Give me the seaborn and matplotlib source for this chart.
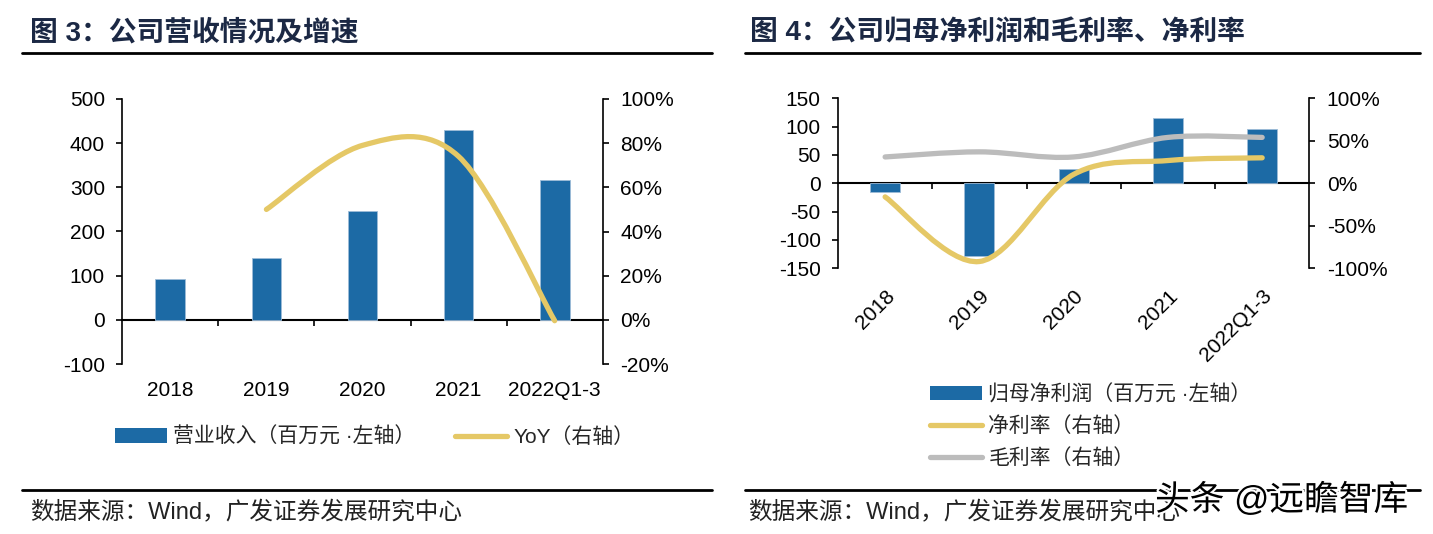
import numpy as np
import pandas as pd
import matplotlib
matplotlib.use("Agg")
import matplotlib.pyplot as plt
import seaborn as sns
import matplotlib.ticker as mticker
import matplotlib.patheffects as pe
from matplotlib.path import Path
from matplotlib.patches import PathPatch, Patch
from matplotlib.lines import Line2D

# ---------------- data ----------------
categories = ["2018", "2019", "2020", "2021", "2022Q1-3"]
revenue = [92, 139, 247, 429, 317]                 # 营业收入（百万元）
revenue_yoy = [np.nan, 50, 79, 74, -0.4]           # YoY (%)
net_profit = [-15, -128, 26, 115, 95]              # 归母净利润（百万元）
net_margin = [-16, -92, 10.5, 26.8, 30]            # 净利率 (%)
gross_margin = [31, 37, 31, 54, 54]                # 毛利率 (%)

left1_ticks = [-100, 0, 100, 200, 300, 400, 500]
right1_ticks = [-20, 0, 20, 40, 60, 80, 100]
left2_ticks = [-150, -100, -50, 0, 50, 100, 150]
right2_ticks = [-100, -50, 0, 50, 100]

title1 = "图 3：公司营收情况及增速"
title2 = "图 4：公司归母净利润和毛利率、净利率"
source = "数据来源：Wind，广发证券发展研究中心"
leg_rev = "营业收入（百万元 ·左轴）"
leg_yoy = "YoY（右轴）"
leg_np = "归母净利润（百万元 ·左轴）"
leg_nm = "净利率（右轴）"
leg_gm = "毛利率（右轴）"
watermark = "头条 @远瞻智库"

# ---------------- style ----------------
BLUE = "#1c6aa5"
YELLOW = "#e5c866"
GREY = "#bcbcbc"
NAVY = "#1b2844"
TICK_FS = 15
LEG_FS = 15

sns.set_theme(style="white")
plt.rcParams["font.family"] = ["Liberation Sans", "Noto Sans CJK SC"]
plt.rcParams["axes.unicode_minus"] = False

W, H = 1433, 534
fig = plt.figure(figsize=(W / 100, H / 100), dpi=100)


def px_rect(x0, y0, x1, y1):
    return [x0 / W, 1 - y1 / H, (x1 - x0) / W, (y1 - y0) / H]


def smooth_path(xs, ys):
    pts = np.array([(x, y) for x, y in zip(xs, ys) if not np.isnan(y)], float)
    n = len(pts)
    verts = [pts[0]]
    codes = [Path.MOVETO]
    for i in range(n - 1):
        p0 = pts[i - 1] if i > 0 else pts[i]
        p1, p2 = pts[i], pts[i + 1]
        p3 = pts[i + 2] if i + 2 < n else pts[i + 1]
        c1 = p1 + (p2 - p0) / 6.0
        c2 = p2 - (p3 - p1) / 6.0
        verts += [c1, c2, p2]
        codes += [Path.CURVE4] * 3
    return Path(verts, codes)


def style_panel(ax, ax2, lticks, rticks):
    n = len(categories)
    ax.set_xlim(-0.5, n - 0.5)
    ax.set_ylim(lticks[0], lticks[-1])
    ax.set_yticks(lticks)
    ax.yaxis.set_major_formatter(mticker.FuncFormatter(lambda v, p: f"{v:.0f}"))
    ax2.set_ylim(rticks[0], rticks[-1])
    ax2.set_yticks(rticks)
    ax2.yaxis.set_major_formatter(mticker.FuncFormatter(lambda v, p: f"{v:.0f}%"))
    for a in (ax, ax2):
        for s in a.spines.values():
            s.set_visible(False)
        a.set_xlabel("")
        a.set_ylabel("")
        a.grid(False)
    ax.spines["left"].set_visible(True)
    ax.spines["left"].set_color("black")
    ax.spines["left"].set_linewidth(1.2)
    ax2.spines["right"].set_visible(True)
    ax2.spines["right"].set_color("black")
    ax2.spines["right"].set_linewidth(1.2)
    ax.tick_params(axis="y", direction="out", length=4, width=1.2, color="black",
                   labelsize=TICK_FS, pad=8.5, left=True, labelcolor="black")
    ax2.tick_params(axis="y", direction="out", length=4, width=1.2, color="black",
                    labelsize=TICK_FS, pad=8.5, right=True, labelcolor="black")
    ax.set_xticks(range(n))
    ax.set_xticklabels(categories)
    # zero line with category-boundary ticks
    frac = (0 - lticks[0]) / (lticks[-1] - lticks[0])
    sec = ax.secondary_xaxis(frac)
    sec.set_xticks(np.arange(n - 1) + 0.5)
    sec.set_xticklabels([])
    sec.tick_params(axis="x", direction="out", length=4, width=1.2, color="black",
                    bottom=True, top=False, labelbottom=False, labeltop=False)
    for s in sec.spines.values():
        s.set_color("black")
        s.set_linewidth(1.5)
    ax.set_zorder(1)
    ax2.set_zorder(2)
    ax.patch.set_visible(False)
    ax2.patch.set_visible(False)


# ---------------- panel 1 ----------------
ax1 = fig.add_axes(px_rect(122.3, 99, 602.7, 364))
df1 = pd.DataFrame({"cat": categories, "rev": revenue})
sns.barplot(data=df1, x="cat", y="rev", ax=ax1, color=BLUE, width=0.31,
            saturation=1, edgecolor="#9dbcd8", linewidth=0.6)
ax1b = ax1.twinx()
style_panel(ax1, ax1b, left1_ticks, right1_ticks)
ax1.tick_params(axis="x", length=0, labelsize=TICK_FS, pad=12, labelcolor="black")
ax1b.add_patch(PathPatch(smooth_path(range(len(categories)), revenue_yoy), fill=False,
                         edgecolor=YELLOW, lw=3.8, capstyle="round", joinstyle="round"))

# ---------------- panel 2 ----------------
ax2 = fig.add_axes(px_rect(838, 98.3, 1309.3, 268.3))
df2 = pd.DataFrame({"cat": categories, "np": net_profit})
sns.barplot(data=df2, x="cat", y="np", ax=ax2, color=BLUE, width=0.32,
            saturation=1, edgecolor="#9dbcd8", linewidth=0.6)
ax2b = ax2.twinx()
style_panel(ax2, ax2b, left2_ticks, right2_ticks)
ax2.tick_params(axis="x", length=0, labelsize=TICK_FS, pad=13, labelcolor="black")
for lab in ax2.get_xticklabels():
    lab.set_rotation(45)
    lab.set_ha("right")
    lab.set_va("top")
    lab.set_rotation_mode("anchor")
ax2b.add_patch(PathPatch(smooth_path(range(len(categories)), gross_margin), fill=False,
                         edgecolor=GREY, lw=3.8, capstyle="round", joinstyle="round"))
ax2b.add_patch(PathPatch(smooth_path(range(len(categories)), net_margin), fill=False,
                         edgecolor=YELLOW, lw=3.8, capstyle="round", joinstyle="round"))

# ---------------- legends ----------------
h_bar = Patch(facecolor=BLUE, edgecolor="none")
h_yel = Line2D([], [], color=YELLOW, lw=3.8, solid_capstyle="round")
h_gry = Line2D([], [], color=GREY, lw=3.8, solid_capstyle="round")
fig.legend([h_bar, h_yel], [leg_rev, leg_yoy], loc="center left",
           bbox_to_anchor=(115 / W, 1 - 437 / H), ncol=2, frameon=False,
           fontsize=LEG_FS, handlelength=2.5, handletextpad=0.3, columnspacing=1.9,
           borderpad=0, borderaxespad=0)
fig.legend([h_bar, h_yel, h_gry], [leg_np, leg_nm, leg_gm], loc="center left",
           bbox_to_anchor=(930 / W, 1 - 426 / H), ncol=1, frameon=False,
           fontsize=LEG_FS, handlelength=2.5, handletextpad=0.3, labelspacing=0.58,
           borderpad=0, borderaxespad=0)

# ---------------- titles, rules, sources ----------------
for x, t in [(30, title1), (750, title2)]:
    fig.text(x / W, 1 - 33 / H, t, fontsize=20, fontweight="bold", color=NAVY,
             va="center", ha="left")
for x0, x1 in [(22, 712), (745, 1420)]:
    for y in (53, 490):
        fig.add_artist(Line2D([x0 / W, x1 / W], [1 - y / H, 1 - y / H],
                              transform=fig.transFigure, color="black", lw=2))
for x in (30, 748):
    fig.text(x / W, 1 - 513 / H, source, fontsize=17, color="#222222",
             va="center", ha="left")
fig.text(1155 / W, 1 - 500 / H, watermark, fontsize=25, color="black",
         va="center", ha="left",
         path_effects=[pe.withStroke(linewidth=3, foreground="white")])

fig.savefig("out.png", dpi=100)
